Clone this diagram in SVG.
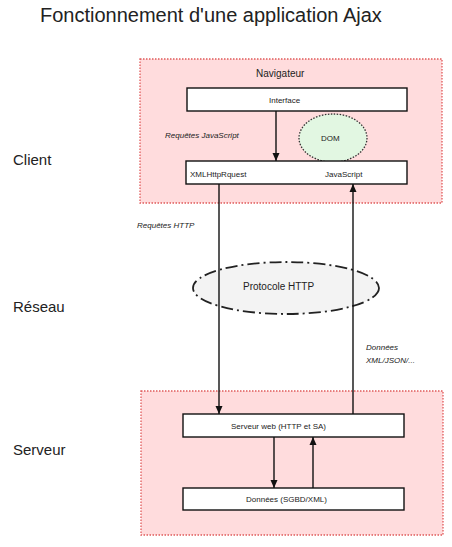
<svg xmlns="http://www.w3.org/2000/svg" width="452" height="547" viewBox="0 0 452 547">
<style>
text{font-family:"Liberation Sans",Arial,sans-serif;fill:#222}
.zone{fill:#ffdcdd;stroke:#e05a5a;stroke-width:1.3;stroke-dasharray:1.5 1.5}
.box{fill:#fff;stroke:#111;stroke-width:1.4}
.lbl{font-size:15px}
.sm{font-size:8px}
.it{font-size:8px;font-style:italic}
.ln{stroke:#111;stroke-width:1.4;fill:none}
</style>
<defs>
<marker id="ah" viewBox="0 0 8 8" refX="8" refY="4" markerWidth="8" markerHeight="8" markerUnits="userSpaceOnUse" orient="auto">
<path d="M0,0.5 L8,4 L0,7.5 Z" fill="#111"/>
</marker>
</defs>
<rect width="452" height="547" fill="#fff"/>
<text x="40" y="22" font-size="20">Fonctionnement d'une application Ajax</text>
<g id="labels">
<text class="lbl" x="13" y="165">Client</text>
<text class="lbl" x="13" y="312">Réseau</text>
<text class="lbl" x="13" y="455">Serveur</text>
</g>
<g id="client">
<rect class="zone" x="140" y="59" width="302" height="144"/>
<text x="256" y="77" font-size="10">Navigateur</text>
<text class="it" x="165" y="138">Requêtes JavaScript</text>
</g>
<g id="dom">
<ellipse cx="333" cy="138" rx="34" ry="24" fill="#e2f7e2" stroke="#333" stroke-width="1.3" stroke-dasharray="1.5 1.5"/>
<text class="sm" x="321" y="141">DOM</text>
</g>
<g id="interface">
<rect class="box" x="187" y="88" width="220" height="23"/>
<text class="sm" x="269" y="103">Interface</text>
</g>
<g id="xhr">
<rect class="box" x="186" y="161" width="221" height="23"/>
<text class="sm" x="190" y="177">XMLHttpRquest</text>
<text class="sm" x="325" y="177">JavaScript</text>
</g>
<g id="reseau">
<ellipse cx="286" cy="288" rx="93" ry="26" fill="#f3f3f3" stroke="#222" stroke-width="1.8" stroke-dasharray="12 4 2 4"/>
<text x="243" y="290" font-size="10">Protocole HTTP</text>
<text class="it" x="137" y="228">Requêtes HTTP</text>
<text class="it" x="366" y="350">Données</text>
<text class="it" x="366" y="363">XML/JSON/...</text>
</g>
<g id="serveur">
<rect class="zone" x="141" y="391" width="302" height="144"/>
</g>
<g id="web">
<rect class="box" x="183" y="414" width="221" height="23"/>
<text class="sm" x="231" y="429">Serveur web (HTTP et SA)</text>
</g>
<g id="donnees">
<rect class="box" x="183" y="488" width="221" height="22"/>
<text class="sm" x="246" y="502">Données (SGBD/XML)</text>
</g>
<g id="connectors">
<line class="ln" x1="276" y1="111" x2="276" y2="161" marker-end="url(#ah)"/>
<line class="ln" x1="219" y1="184" x2="219" y2="414" marker-end="url(#ah)"/>
<line class="ln" x1="353" y1="414" x2="353" y2="184" marker-end="url(#ah)"/>
<line class="ln" x1="274" y1="437" x2="274" y2="488" marker-end="url(#ah)"/>
<line class="ln" x1="313" y1="488" x2="313" y2="437" marker-end="url(#ah)"/>
</g>
</svg>
